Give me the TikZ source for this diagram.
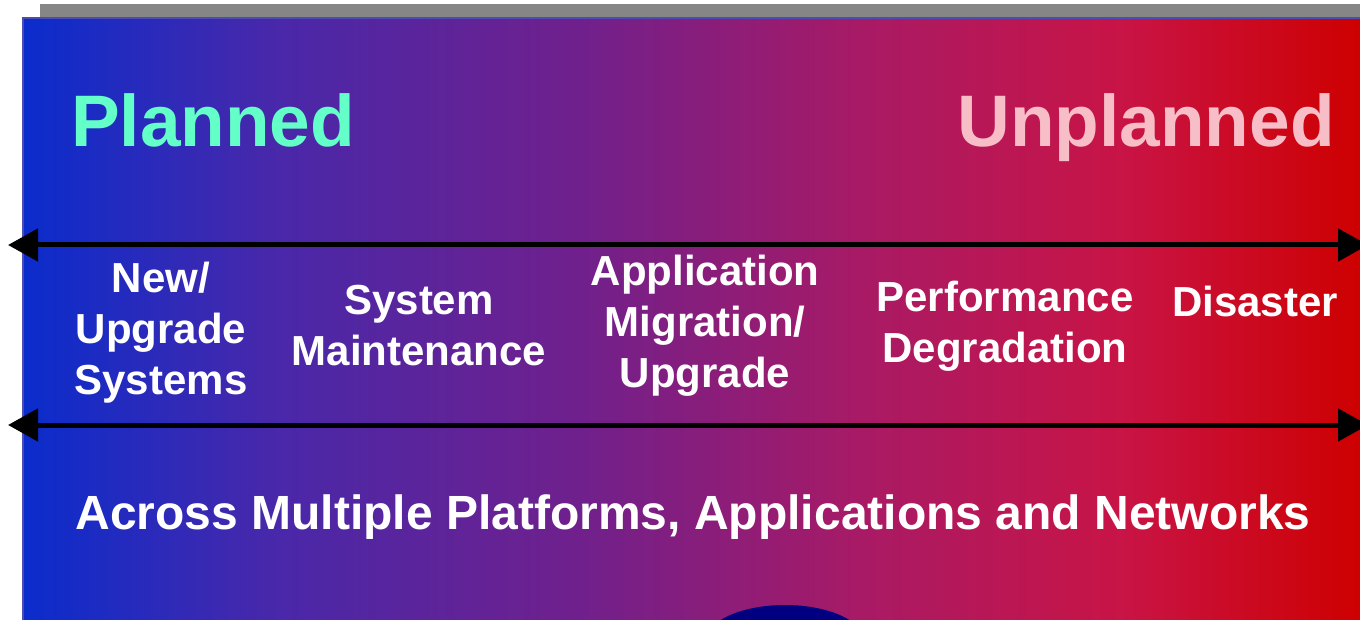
\documentclass[tikz,border=0pt]{standalone}
\usepackage{fontspec}
\setmainfont{Liberation Sans}
\usepackage{tikz}
\usepackage{xcolor}
\usetikzlibrary{arrows.meta}
\definecolor{myblue}{RGB}{10,44,204}
\definecolor{myviolet}{RGB}{72,40,170}
\definecolor{mypurple}{RGB}{112,32,140}
\definecolor{mymagenta}{RGB}{170,26,100}
\definecolor{mycrimson}{RGB}{200,20,70}
\definecolor{myred}{RGB}{206,0,0}
\definecolor{myaqua}{RGB}{100,255,200}
\definecolor{mypink}{RGB}{248,190,200}
\definecolor{mynavy}{RGB}{0,0,128}
\pgfdeclarehorizontalshading{spectrum}{100bp}{color(0bp)=(myblue); color(25bp)=(myblue);
  color(34.25bp)=(myviolet); color(45.85bp)=(mypurple); color(56.7bp)=(mymagenta);
  color(66bp)=(mycrimson); color(75bp)=(myred); color(100bp)=(myred)}

\begin{document}
\begin{tikzpicture}[
    x=0.5pt, y=-0.5pt,
    title/.style={anchor=base, font=\fontsize{36.5}{40}\selectfont\bfseries},
    item/.style={text=white, align=center, font=\fontsize{21}{25.5}\selectfont\bfseries},
    span/.style={{Triangle[length=15pt, width=16pt]}-{Triangle[length=15pt, width=16pt]}, line width=2.5pt, black}
]
\useasboundingbox (0,0) rectangle (1360,620);

% Background
\fill[gray!95] (40,4) rectangle (1360,18);
\shade[shading=spectrum, draw=blue!40!gray, line width=0.8pt]
    (23,18) rectangle (1362,622);
\fill[mynavy] (785,642) ellipse [x radius=80, y radius=37];

% Titles
\node[title, text=myaqua] (planned) at (213,147) {Planned};
\node[title, text=mypink] (unplanned) at (1146,147) {Unplanned};

% Arrows
\coordinate (t1) at (8,245);
\coordinate (t2) at (1368,245);
\coordinate (b1) at (8,425);
\coordinate (b2) at (1368,425);
\draw[span] (t1) -- (t2);
\draw[span] (b1) -- (b2);

% Items
\node[item] (newup) at (161,333) {New/\\Upgrade\\Systems};
\node[item] (maint) at (419,326) {System\\Maintenance};
\node[item] (migr) at (705,326) {Application\\Migration/\\Upgrade};
\node[item] (perf) at (1005,326) {Performance\\Degradation};
\node[item] (dis) at (1255,301) {Disaster};

% Caption
\node[item, font=\fontsize{24}{28}\selectfont\bfseries] (across) at (693,517)
    {Across Multiple Platforms, Applications and Networks};

\end{tikzpicture}
\end{document}
